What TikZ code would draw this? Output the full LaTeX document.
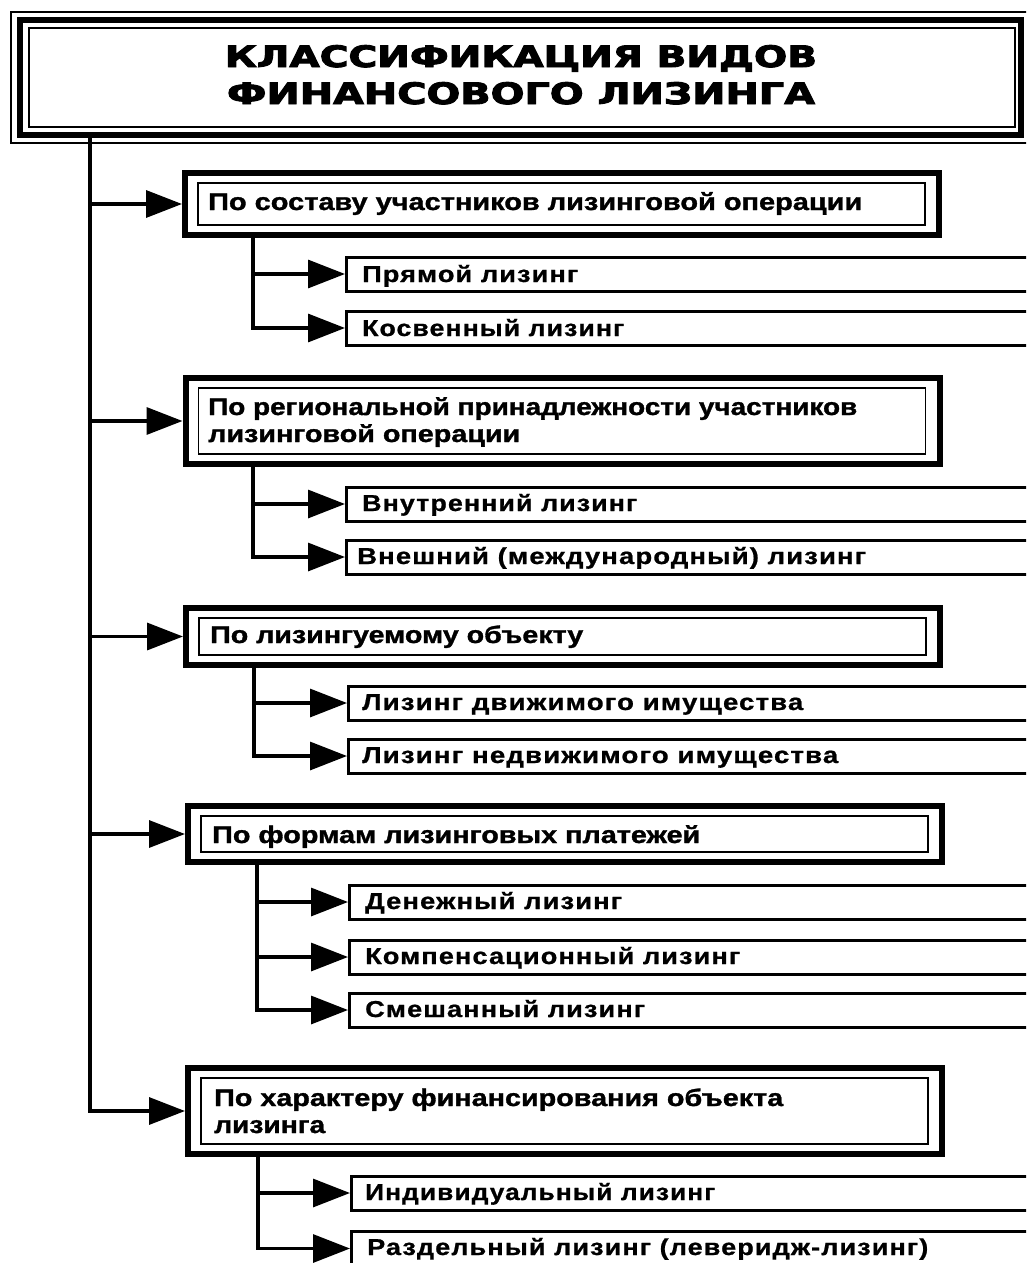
\documentclass[tikz,border=0pt]{standalone}
\usepackage{fontspec}
\usepackage{graphicx}
\setmainfont{Liberation Sans}
\newfontfamily\titlefont[BoldFeatures={FakeBold=3}]{DejaVu Sans}
\newfontfamily\catfont[BoldFeatures={FakeBold=1.2}]{Liberation Sans}
\newfontfamily\kidfont[LetterSpace=4,BoldFeatures={FakeBold=0.8}]{Liberation Sans}
\usetikzlibrary{arrows.meta}
\begin{document}
\begin{tikzpicture}[x=1pt,y=-1pt,
  catbox/.style={draw, line width=6pt, rectangle, inner sep=0pt, minimum width=754pt},
  kidbox/.style={draw, line width=3pt, rectangle, inner sep=0pt, anchor=west, minimum width=715pt, minimum height=34pt},
  cattext/.style={inner sep=0pt, anchor=base west, font=\catfont\bfseries\fontsize{24}{24}\selectfont},
  kidtext/.style={inner sep=0pt, anchor=base west, font=\kidfont\bfseries\fontsize{23}{24}\selectfont},
  titletext/.style={inner sep=0pt, anchor=base, font=\titlefont\bfseries\fontsize{29.5}{30}\selectfont},
  mainarrow/.style={line width=3.4pt, -{Triangle[length=36pt,width=27pt]}},
  subarrow/.style={line width=3.2pt, -{Triangle[length=37pt,width=28pt]}},
  thinline/.style={line width=1.4pt}]
\clip (0,0) rectangle (1026,1263);
\fill[white] (0,0) rectangle (1026,1263);

% title
\node[draw, line width=6pt, minimum width=1001pt, minimum height=114pt, inner sep=0pt] (title) at (520.5,77.5) {};
\draw[thinline] ([shift={(-6,-5.5)}]title.north west) rectangle ([shift={(6,5.5)}]title.south east);
\draw[thinline] ([shift={(12,10.5)}]title.north west) rectangle ([shift={(-9,-10.5)}]title.south east);
\node[titletext] (tl1) at (521,67) {\resizebox{592pt}{\height}{КЛАССИФИКАЦИЯ ВИДОВ}};
\node[titletext] (tl2) at (521,104) {\resizebox{588pt}{\height}{ФИНАНСОВОГО ЛИЗИНГА}};

% category boxes
\node[catbox, minimum height=62pt] (c1) at (562,204) {};
\node[catbox, minimum height=86pt] (c2) at (562.5,421) {};
\node[catbox, minimum height=57pt] (c3) at (563,636.5) {};
\node[catbox, minimum height=56pt] (c4) at (565,834) {};
\node[catbox, minimum height=86pt] (c5) at (565,1111) {};
\foreach \c in {c1,c2,c3,c4,c5}{
  \draw[thinline] ([shift={(16,13)}]\c.north west) rectangle ([shift={(-17,-13)}]\c.south east);
}
\node[cattext] (c1t) at (208,210) {\resizebox{654pt}{\height}{По составу участников лизинговой операции}};
\node[cattext] (c2t) at (208,415) {\resizebox{649pt}{\height}{По региональной принадлежности участников}};
\node[cattext] (c2u) at (208,442) {\resizebox{312pt}{\height}{лизинговой операции}};
\node[cattext] (c3t) at (210,643) {\resizebox{373pt}{\height}{По лизингуемому объекту}};
\node[cattext] (c4t) at (212,843) {\resizebox{488pt}{\height}{По формам лизинговых платежей}};
\node[cattext] (c5t) at (214,1106) {\resizebox{569pt}{\height}{По характеру финансирования объекта}};
\node[cattext] (c5u) at (214,1133) {\resizebox{111pt}{\height}{лизинга}};

% child boxes
\node[kidbox] (k11) at (345,274) {};
\node[kidbox] (k12) at (345,328) {};
\node[kidbox] (k21) at (345,504) {};
\node[kidbox] (k22) at (345,557) {};
\node[kidbox] (k31) at (347,703) {};
\node[kidbox] (k32) at (347,756) {};
\node[kidbox] (k41) at (348,902) {};
\node[kidbox] (k42) at (348,957) {};
\node[kidbox] (k43) at (348,1010) {};
\node[kidbox] (k51) at (350,1193) {};
\node[kidbox, minimum height=35pt] (k52) at (350,1248.5) {};

\node[kidtext] (k11t) at (362,282) {\resizebox{216pt}{\height}{Прямой лизинг}};
\node[kidtext] (k12t) at (362,336) {\resizebox{262pt}{\height}{Косвенный лизинг}};
\node[kidtext] (k21t) at (362,511) {\resizebox{275pt}{\height}{Внутренний лизинг}};
\node[kidtext] (k22t) at (357,564) {\resizebox{509pt}{\height}{Внешний (международный) лизинг}};
\node[kidtext] (k31t) at (362,710) {\resizebox{441pt}{\height}{Лизинг движимого имущества}};
\node[kidtext] (k32t) at (362,763) {\resizebox{476pt}{\height}{Лизинг недвижимого имущества}};
\node[kidtext] (k41t) at (365,909) {\resizebox{257pt}{\height}{Денежный лизинг}};
\node[kidtext] (k42t) at (365,964) {\resizebox{375pt}{\height}{Компенсационный лизинг}};
\node[kidtext] (k43t) at (365,1017) {\resizebox{280pt}{\height}{Смешанный лизинг}};
\node[kidtext] (k51t) at (365,1200) {\resizebox{350pt}{\height}{Индивидуальный лизинг}};
\node[kidtext] (k52t) at (367,1255) {\resizebox{561pt}{\height}{Раздельный лизинг (леверидж-лизинг)}};

% trunk and main arrows
\coordinate (tx) at (90,0);
\draw[mainarrow] (tx |- title.south) -- (tx |- c5.west) -- (c5.west);
\foreach \c in {c1,c2,c3,c4}{
  \draw[mainarrow] (tx |- \c.west) -- (\c.west);
}

% sub branches
\coordinate (s1) at (253,0);
\coordinate (s2) at (253,0);
\coordinate (s3) at (254,0);
\coordinate (s4) at (257,0);
\coordinate (s5) at (258,0);
\draw[subarrow] (s1 |- c1.south) |- (k12.west);
\draw[subarrow] (s1 |- k11.west) -- (k11.west);
\draw[subarrow] (s2 |- c2.south) |- (k22.west);
\draw[subarrow] (s2 |- k21.west) -- (k21.west);
\draw[subarrow] (s3 |- c3.south) |- (k32.west);
\draw[subarrow] (s3 |- k31.west) -- (k31.west);
\draw[subarrow] (s4 |- c4.south) |- (k43.west);
\draw[subarrow] (s4 |- k41.west) -- (k41.west);
\draw[subarrow] (s4 |- k42.west) -- (k42.west);
\draw[subarrow] (s5 |- c5.south) |- (k52.west);
\draw[subarrow] (s5 |- k51.west) -- (k51.west);
\end{tikzpicture}
\end{document}
